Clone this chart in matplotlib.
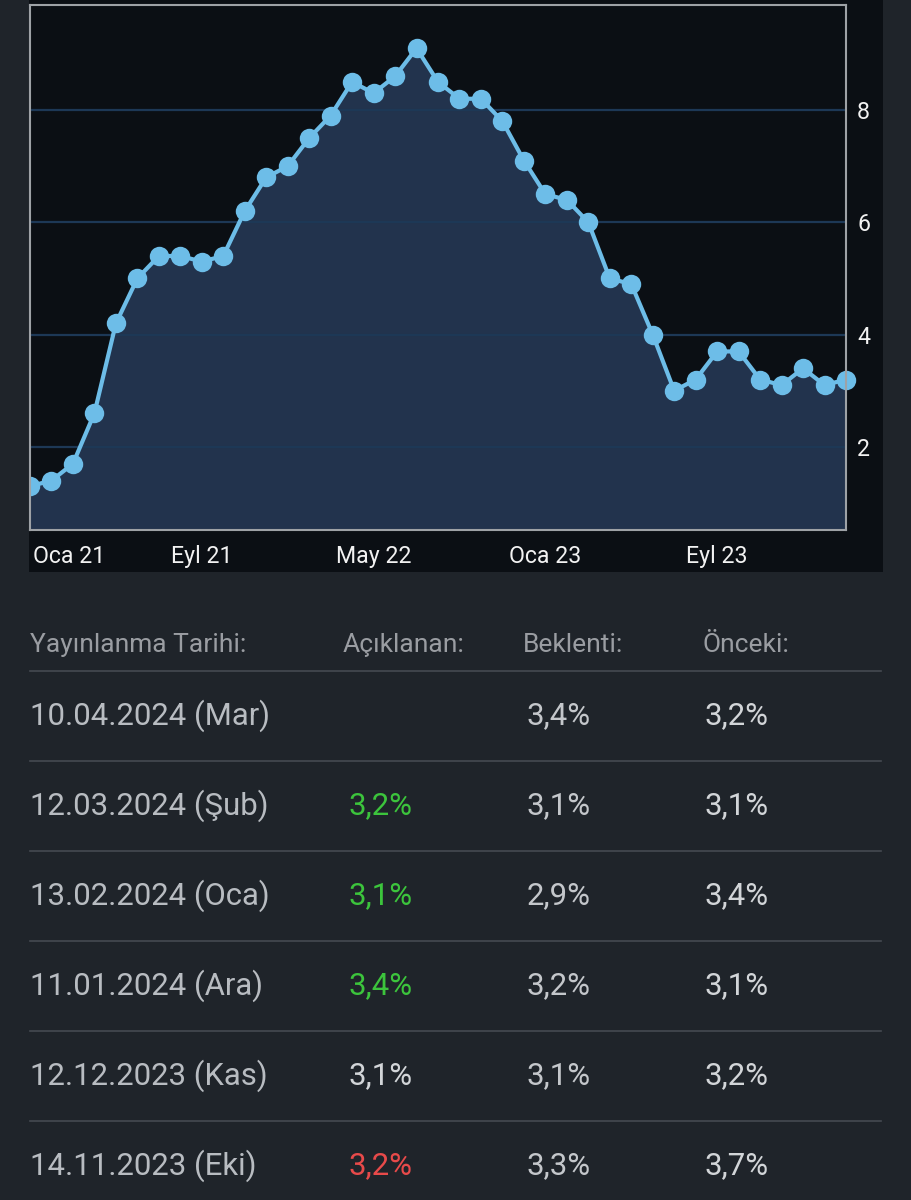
import matplotlib
matplotlib.use("Agg")
import matplotlib.pyplot as plt
from matplotlib.patches import Rectangle
from matplotlib.lines import Line2D
from matplotlib.transforms import offset_copy

plt.rcParams['font.family'] = ['Roboto', 'DejaVu Sans']

# yearly inflation, monthly points
inflation = [1.3, 1.4, 1.7, 2.6, 4.2, 5.0, 5.4, 5.4, 5.3, 5.4,
             6.2, 6.8, 7.0, 7.5, 7.9, 8.5, 8.3, 8.6, 9.1, 8.5,
             8.2, 8.2, 7.8, 7.1, 6.5, 6.4, 6.0, 5.0, 4.9, 4.0,
             3.0, 3.2, 3.7, 3.7, 3.2, 3.1, 3.4, 3.1, 3.2]
month_idx = list(range(len(inflation)))
xtick_pos = [0, 8, 16, 24, 32]
xtick_labels = ["Oca 21", "Eyl 21", "May 22", "Oca 23", "Eyl 23"]
ytick_pos = [2, 4, 6, 8]

# release table
headers = ["Yayınlanma Tarihi:", "Açıklanan:", "Beklenti:", "Önceki:"]
dates = ["10.04.2024 (Mar)", "12.03.2024 (Şub)", "13.02.2024 (Oca)",
         "11.01.2024 (Ara)", "12.12.2023 (Kas)", "14.11.2023 (Eki)"]
actual = ["", "3,2%", "3,1%", "3,4%", "3,1%", "3,2%"]
actual_state = ["", "up", "up", "up", "same", "down"]
forecast = ["3,4%", "3,1%", "2,9%", "3,2%", "3,1%", "3,3%"]
previous = ["3,2%", "3,1%", "3,4%", "3,1%", "3,2%", "3,7%"]

BG = "#1f242a"
PANEL = "#0b0f14"
FILL = "#22334d"
LINE = "#6dbde8"
GRID = "#1d3856"
FRAME = "#9ea2a6"
state_col = {"up": "#3cc43c", "down": "#e84a4a", "same": "#d2d5d8", "": "#d2d5d8"}

W, H = 911, 1200
fig = plt.figure(figsize=(W / 100, H / 100), dpi=100, facecolor=BG)

def fx(px):
    return px / W

def fy(py):
    return 1 - py / H

# dark chart panel, behind the axes
panel = Rectangle((fx(29), fy(572)), fx(883) - fx(29), fy(0) - fy(572),
                  transform=fig.transFigure, facecolor=PANEL, edgecolor="none", zorder=-1)
fig.patches.append(panel)

ax = fig.add_axes([fx(30), fy(530), fx(846) - fx(30), fy(5) - fy(530)])
ax.set_facecolor(PANEL)
ymin, ymax = 0.52, 9.87
ax.set_xlim(0, len(inflation) - 1)
ax.set_ylim(ymin, ymax)

ax.fill_between(month_idx, inflation, ymin, color=FILL, zorder=2, linewidth=0)
line, = ax.plot(month_idx, inflation, color=LINE, lw=3.0, marker="o", ms=14,
                markeredgewidth=0, zorder=4)
# markers may spill over the frame, but not past the dark panel
line.set_clip_path(panel)

for v in ytick_pos:
    ax.axhline(v, color=GRID, lw=1.6, zorder=3)

for s in ax.spines.values():
    s.set_color(FRAME)
    s.set_linewidth(1.5)
    s.set_zorder(5)

ax.yaxis.tick_right()
ax.set_yticks(ytick_pos)
ax.set_yticklabels([str(v) for v in ytick_pos])
ax.set_xticks(xtick_pos)
ax.set_xticklabels(xtick_labels)
ax.tick_params(axis="both", length=0, colors="#f2f2f2", labelsize=16.7)
ax.tick_params(axis="x", pad=10.5)
ax.tick_params(axis="y", pad=8)
first = ax.get_xticklabels()[0]
first.set_horizontalalignment("left")
first.set_transform(offset_copy(first.get_transform(), fig=fig, x=3, units="dots"))

# table
col_x = [30, 349, 527, 705]
head_x = [30, 343, 523, 703]
for hx, h in zip(head_x, headers):
    fig.text(fx(hx), fy(645), h, color="#9a9da2", fontsize=19, va="center", ha="left")

sep_y = [671, 761, 851, 941, 1031, 1121]
for sy in sep_y:
    fig.lines.append(Line2D([fx(30), fx(881)], [fy(sy), fy(sy)], transform=fig.transFigure,
                            color="#454a51", lw=1.2))

fs = 22.4
for i in range(len(dates)):
    ry = fy(716 + 90 * i)
    fig.text(fx(col_x[0]), ry, dates[i], color="#b8bcc1", fontsize=fs, va="center", ha="left")
    fig.text(fx(col_x[1]), ry, actual[i], color=state_col[actual_state[i]], fontsize=fs,
             va="center", ha="left")
    fig.text(fx(col_x[2]), ry, forecast[i], color="#c4c7cb", fontsize=fs, va="center", ha="left")
    fig.text(fx(col_x[3]), ry, previous[i], color="#d2d5d8", fontsize=fs, va="center", ha="left")

fig.savefig("out.png", dpi=100, facecolor=BG)
